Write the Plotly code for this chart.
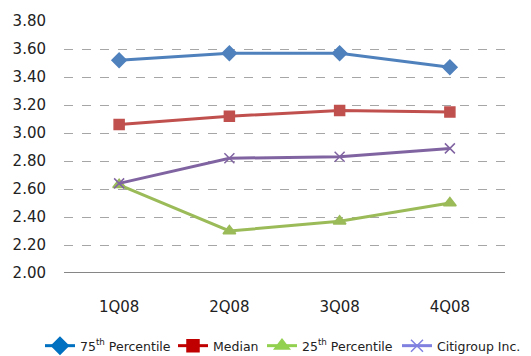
import plotly.graph_objects as go

quarters = ["1Q08", "2Q08", "3Q08", "4Q08"]
p75 = [3.52, 3.57, 3.57, 3.47]
median = [3.06, 3.12, 3.16, 3.15]
p25 = [2.63, 2.30, 2.37, 2.50]
citi = [2.64, 2.82, 2.83, 2.89]

y_ticks = [2.0, 2.2, 2.4, 2.6, 2.8, 3.0, 3.2, 3.4, 3.6, 3.8]

# (name, values, line colour, legend colour, marker symbol, marker size)
series = [
    ("75<sup>th</sup> Percentile", p75, "#4F81BD", "#0070C0", "diamond", 11),
    ("Median", median, "#C0504D", "#C00000", "square", 10),
    ("25<sup>th</sup> Percentile", p25, "#9BBB59", "#92D050", "triangle-up", 11),
    ("Citigroup Inc.", citi, "#8064A2", "#8080E0", "x-thin", 10),
]

# left edge of each legend entry, as a fraction of the figure width
legend_x = [0.0753, 0.3258, 0.4934, 0.7476]
legend_ids = ["legend", "legend2", "legend3", "legend4"]

fig = go.Figure()

# plotted lines
for name, vals, col, _, sym, size in series:
    fig.add_trace(go.Scatter(
        x=quarters, y=vals, mode="lines+markers", name=name, showlegend=False,
        line=dict(color=col, width=3),
        marker=dict(symbol=sym, size=size, color=col,
                    line=dict(color=col, width=1.5)),
    ))

# legend entries, one legend box each so they sit in a single row
for (name, vals, _, lcol, sym, size), lid in zip(series, legend_ids):
    fig.add_trace(go.Scatter(
        x=[None], y=[None], mode="lines+markers", name=name, legend=lid,
        line=dict(color=lcol, width=3),
        marker=dict(symbol=sym, size=size + 2, color=lcol,
                    line=dict(color=lcol, width=1.5)),
    ))

legend_layout = {}
for lid, lx in zip(legend_ids, legend_x):
    legend_layout[lid] = dict(
        orientation="h", xref="container", yref="container",
        x=lx, xanchor="left", y=0.028, yanchor="middle",
        font=dict(size=12.5), itemwidth=30, bgcolor="rgba(0,0,0,0)",
    )

fig.update_layout(
    width=531, height=356,
    margin=dict(l=64, r=26, t=17, b=83),
    paper_bgcolor="white", plot_bgcolor="white",
    font=dict(family="DejaVu Sans", size=15, color="#222222"),
    xaxis=dict(
        type="category", range=[-0.5, 3.5], showgrid=False, zeroline=False,
        showline=False, ticks="outside", ticklen=20,
        tickcolor="rgba(0,0,0,0)", tickfont=dict(size=15),
    ),
    yaxis=dict(
        range=[2.0, 3.8], tickvals=y_ticks,
        ticktext=[f"{v:.2f}" for v in y_ticks],
        showgrid=True, gridcolor="#A6A6A6", griddash="dash", gridwidth=1,
        zeroline=False, showline=False, ticks="outside", ticklen=14,
        tickcolor="rgba(0,0,0,0)", tickfont=dict(size=15),
    ),
    shapes=[dict(type="line", xref="paper", yref="y", x0=0, x1=1, y0=2.0, y1=2.0,
                 line=dict(color="#868686", width=2))],
    **legend_layout,
)

fig.write_html("out.html")
